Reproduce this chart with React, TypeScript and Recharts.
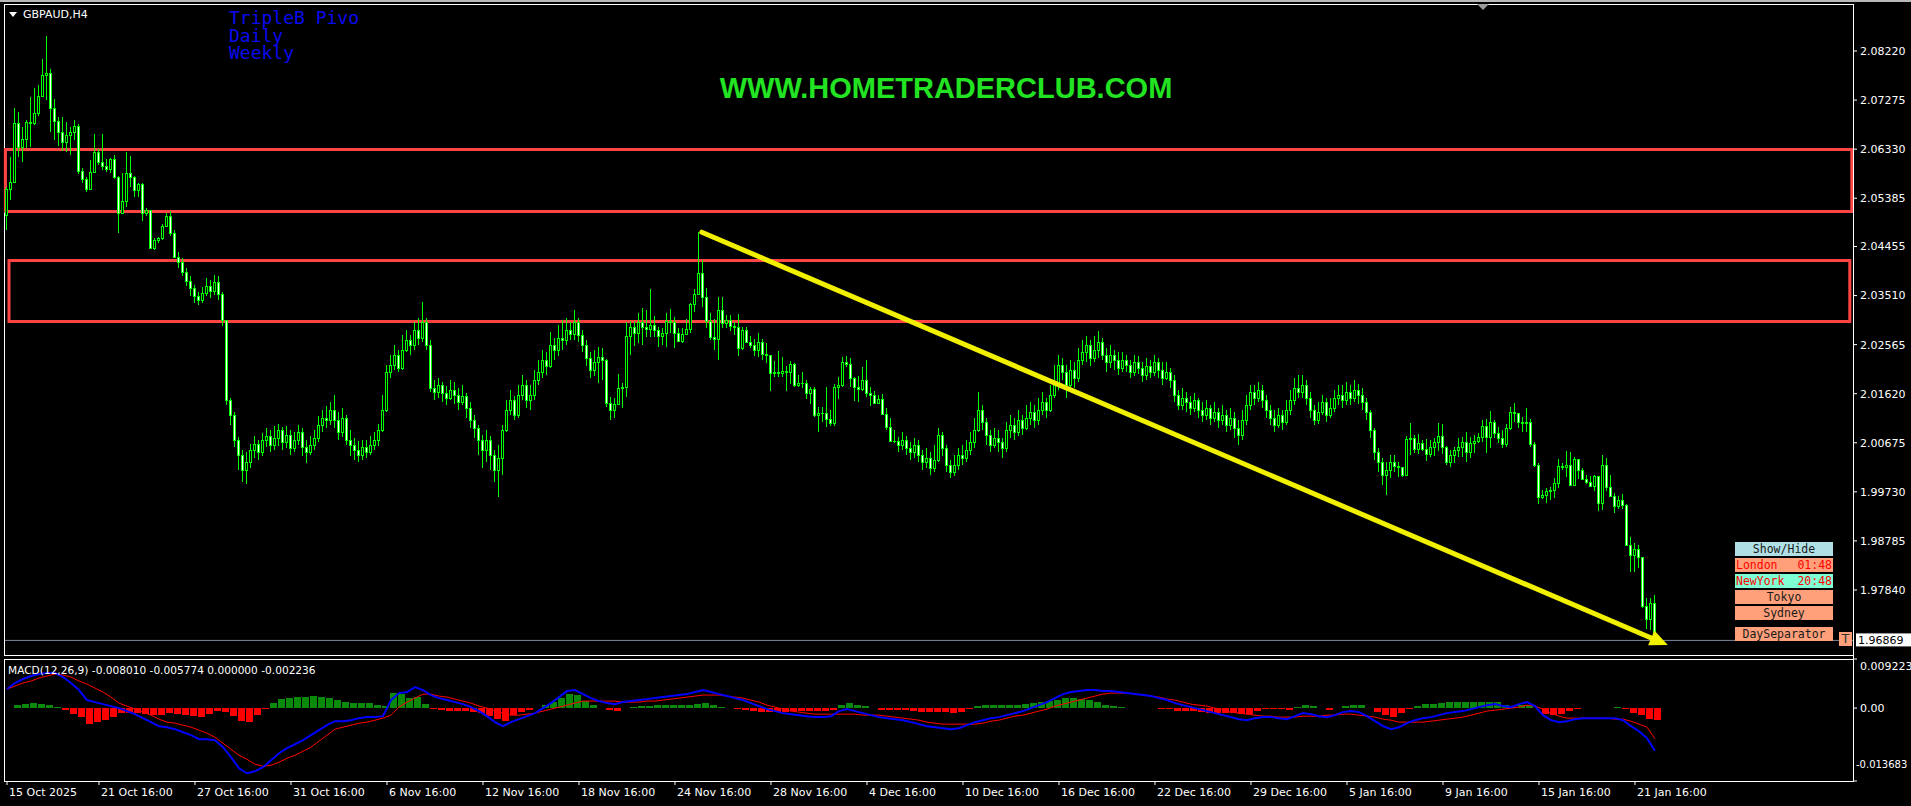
import React from "react";
import {
  ComposedChart,
  Bar,
  Line,
  XAxis,
  YAxis,
  ReferenceArea,
  ReferenceLine,
} from "recharts";

const W = 1911;
const H = 806;

// GBPAUD H4 candles (index 0 = first visible bar)
const firstOpen = 2.0506;
const closes = [
  2.0556,2.0569,2.0683,2.0637,2.0652,2.0685,2.0683,2.0702,2.0735,2.0776,2.0779,2.0712,2.0687,2.0666,2.0647,
  2.0660,2.0666,2.0677,2.0591,2.0575,2.0556,2.0589,2.0627,2.0608,2.0600,2.0595,2.0614,2.0579,2.0510,2.0533,
  2.0587,2.0579,2.0554,2.0566,2.0510,2.0516,2.0442,2.0458,2.0462,2.0485,2.0504,2.0471,2.0425,2.0415,2.0396,
  2.0379,2.0365,2.0350,2.0342,2.0356,2.0369,2.0360,2.0377,2.0354,2.0304,2.0150,2.0121,2.0073,2.0044,2.0015,
  2.0030,2.0053,2.0065,2.0049,2.0073,2.0080,2.0063,2.0076,2.0092,2.0069,2.0082,2.0057,2.0073,2.0088,2.0059,
  2.0049,2.0063,2.0076,2.0101,2.0115,2.0111,2.0130,2.0111,2.0088,2.0115,2.0073,2.0063,2.0053,2.0044,2.0059,
  2.0049,2.0063,2.0073,2.0092,2.0130,2.0204,2.0217,2.0236,2.0211,2.0246,2.0265,2.0256,2.0284,2.0269,2.0300,
  2.0256,2.0173,2.0165,2.0179,2.0163,2.0153,2.0169,2.0159,2.0146,2.0157,2.0134,2.0111,2.0096,2.0073,2.0053,
  2.0073,2.0044,2.0015,2.0038,2.0092,2.0130,2.0150,2.0121,2.0159,2.0179,2.0150,2.0159,2.0188,2.0204,2.0227,
  2.0215,2.0256,2.0246,2.0269,2.0265,2.0284,2.0277,2.0300,2.0275,2.0256,2.0231,2.0207,2.0223,2.0232,2.0227,
  2.0144,2.0130,2.0142,2.0173,2.0175,2.0273,2.0290,2.0279,2.0300,2.0290,2.0286,2.0294,2.0284,2.0273,2.0279,
  2.0302,2.0300,2.0279,2.0263,2.0277,2.0286,2.0335,2.0354,2.0394,2.0348,2.0302,2.0271,2.0267,2.0323,2.0298,
  2.0304,2.0292,2.0290,2.0250,2.0284,2.0261,2.0256,2.0246,2.0261,2.0238,2.0236,2.0202,2.0204,2.0202,2.0206,
  2.0204,2.0219,2.0179,2.0182,2.0182,2.0163,2.0171,2.0121,2.0125,2.0125,2.0113,2.0105,2.0175,2.0179,2.0223,
  2.0219,2.0192,2.0175,2.0171,2.0188,2.0163,2.0159,2.0144,2.0152,2.0123,2.0098,2.0071,2.0071,2.0063,2.0073,
  2.0057,2.0049,2.0063,2.0044,2.0030,2.0038,2.0019,2.0034,2.0082,2.0057,2.0024,2.0011,2.0024,2.0044,2.0038,
  2.0053,2.0069,2.0092,2.0130,2.0107,2.0082,2.0063,2.0076,2.0069,2.0057,2.0092,2.0101,2.0088,2.0111,2.0096,
  2.0115,2.0127,2.0111,2.0130,2.0146,2.0130,2.0159,2.0179,2.0217,2.0204,2.0179,2.0207,2.0192,2.0227,2.0242,
  2.0256,2.0231,2.0246,2.0261,2.0236,2.0223,2.0236,2.0227,2.0211,2.0227,2.0217,2.0204,2.0223,2.0211,2.0198,
  2.0215,2.0204,2.0223,2.0207,2.0192,2.0204,2.0188,2.0159,2.0140,2.0153,2.0146,2.0134,2.0150,2.0130,2.0121,
  2.0134,2.0115,2.0127,2.0111,2.0121,2.0101,2.0115,2.0096,2.0082,2.0111,2.0140,2.0165,2.0153,2.0169,2.0150,
  2.0130,2.0115,2.0101,2.0121,2.0107,2.0130,2.0150,2.0173,2.0165,2.0179,2.0153,2.0130,2.0111,2.0127,2.0146,
  2.0121,2.0134,2.0153,2.0159,2.0150,2.0165,2.0153,2.0169,2.0159,2.0146,2.0127,2.0092,2.0049,2.0030,2.0005,
  2.0015,2.0030,2.0022,2.0021,2.0005,2.0074,2.0076,2.0055,2.0067,2.0055,2.0046,2.0059,2.0069,2.0080,2.0059,
  2.0030,2.0044,2.0053,2.0059,2.0069,2.0049,2.0067,2.0071,2.0078,2.0100,2.0078,2.0107,2.0086,2.0076,2.0065,
  2.0096,2.0127,2.0125,2.0107,2.0105,2.0107,2.0065,2.0024,1.9963,1.9967,1.9974,1.9976,1.9990,2.0023,2.0021,
  2.0024,1.9986,2.0036,2.0015,1.9997,1.9992,1.9984,2.0003,1.9951,2.0024,1.9982,1.9965,1.9945,1.9957,1.9947,
  1.9870,1.9851,1.9863,1.9847,1.9753,1.9728,1.9759,1.96869,
];
const highs = [
  2.0560,2.0618,2.0712,2.0704,2.0675,2.0689,2.0733,2.0751,2.0756,2.0806,2.0851,2.0787,2.0729,2.0695,2.0695,
  2.0685,2.0675,2.0689,2.0681,2.0596,2.0579,2.0612,2.0662,2.0633,2.0662,2.0614,2.0616,2.0621,2.0581,2.0587,
  2.0627,2.0620,2.0581,2.0568,2.0568,2.0519,2.0512,2.0462,2.0464,2.0489,2.0510,2.0514,2.0477,2.0435,2.0423,
  2.0404,2.0388,2.0371,2.0358,2.0367,2.0385,2.0381,2.0390,2.0388,2.0358,2.0304,2.0153,2.0127,2.0078,2.0053,
  2.0049,2.0065,2.0080,2.0073,2.0086,2.0096,2.0092,2.0100,2.0103,2.0098,2.0100,2.0092,2.0088,2.0101,2.0096,
  2.0073,2.0080,2.0092,2.0119,2.0130,2.0138,2.0146,2.0159,2.0127,2.0134,2.0121,2.0092,2.0076,2.0071,2.0073,
  2.0073,2.0080,2.0088,2.0103,2.0159,2.0217,2.0236,2.0256,2.0246,2.0275,2.0284,2.0275,2.0300,2.0308,2.0338,
  2.0308,2.0265,2.0188,2.0192,2.0184,2.0177,2.0188,2.0184,2.0173,2.0179,2.0163,2.0146,2.0121,2.0101,2.0082,
  2.0092,2.0080,2.0053,2.0063,2.0101,2.0150,2.0169,2.0157,2.0179,2.0198,2.0188,2.0179,2.0207,2.0227,2.0246,
  2.0242,2.0281,2.0269,2.0294,2.0304,2.0308,2.0300,2.0323,2.0308,2.0284,2.0265,2.0242,2.0246,2.0252,2.0250,
  2.0229,2.0155,2.0153,2.0200,2.0182,2.0300,2.0302,2.0302,2.0317,2.0327,2.0323,2.0363,2.0311,2.0290,2.0288,
  2.0317,2.0325,2.0309,2.0288,2.0288,2.0306,2.0336,2.0363,2.0473,2.0419,2.0365,2.0317,2.0306,2.0348,2.0348,
  2.0313,2.0313,2.0300,2.0315,2.0290,2.0290,2.0273,2.0267,2.0279,2.0267,2.0259,2.0236,2.0225,2.0244,2.0232,
  2.0215,2.0225,2.0221,2.0198,2.0204,2.0188,2.0175,2.0175,2.0136,2.0136,2.0175,2.0130,2.0180,2.0194,2.0232,
  2.0234,2.0231,2.0194,2.0196,2.0213,2.0227,2.0175,2.0167,2.0159,2.0161,2.0134,2.0115,2.0092,2.0078,2.0088,
  2.0080,2.0069,2.0076,2.0073,2.0053,2.0057,2.0049,2.0063,2.0096,2.0088,2.0063,2.0034,2.0044,2.0057,2.0063,
  2.0073,2.0088,2.0115,2.0165,2.0140,2.0115,2.0092,2.0096,2.0092,2.0076,2.0107,2.0121,2.0115,2.0130,2.0121,
  2.0140,2.0146,2.0140,2.0153,2.0165,2.0153,2.0179,2.0217,2.0236,2.0231,2.0217,2.0227,2.0223,2.0250,2.0265,
  2.0273,2.0265,2.0273,2.0283,2.0269,2.0250,2.0256,2.0246,2.0242,2.0242,2.0236,2.0227,2.0236,2.0234,2.0223,
  2.0231,2.0227,2.0236,2.0231,2.0223,2.0223,2.0211,2.0198,2.0169,2.0173,2.0165,2.0157,2.0163,2.0153,2.0146,
  2.0150,2.0140,2.0146,2.0134,2.0140,2.0130,2.0134,2.0127,2.0111,2.0130,2.0159,2.0179,2.0179,2.0184,2.0179,
  2.0159,2.0140,2.0130,2.0134,2.0130,2.0150,2.0169,2.0192,2.0198,2.0198,2.0188,2.0165,2.0140,2.0146,2.0159,
  2.0153,2.0153,2.0169,2.0179,2.0179,2.0184,2.0179,2.0188,2.0180,2.0173,2.0153,2.0130,2.0096,2.0057,2.0038,
  2.0030,2.0044,2.0044,2.0030,2.0019,2.0080,2.0105,2.0082,2.0084,2.0073,2.0075,2.0073,2.0076,2.0105,2.0103,
  2.0061,2.0053,2.0059,2.0076,2.0078,2.0088,2.0078,2.0082,2.0086,2.0111,2.0113,2.0128,2.0111,2.0098,2.0092,
  2.0103,2.0136,2.0144,2.0125,2.0117,2.0134,2.0113,2.0069,2.0028,1.9976,1.9980,1.9982,1.9999,2.0036,2.0028,
  2.0051,2.0049,2.0040,2.0021,2.0019,2.0005,2.0003,2.0005,2.0003,2.0044,2.0038,2.0005,1.9971,1.9965,1.9969,
  1.9949,1.9886,1.9874,1.9870,1.9847,1.9768,1.9768,1.9774,
];
const lows = [
  2.0477,2.0535,2.0569,2.0618,2.0608,2.0635,2.0637,2.0679,2.0697,2.0733,2.0727,2.0666,2.0650,2.0639,2.0629,
  2.0627,2.0621,2.0650,2.0585,2.0568,2.0550,2.0554,2.0587,2.0602,2.0593,2.0589,2.0587,2.0575,2.0471,2.0521,
  2.0521,2.0560,2.0541,2.0541,2.0494,2.0504,2.0440,2.0439,2.0452,2.0458,2.0483,2.0465,2.0423,2.0404,2.0388,
  2.0369,2.0350,2.0336,2.0333,2.0336,2.0350,2.0346,2.0352,2.0342,2.0292,2.0140,2.0101,2.0059,2.0015,1.9992,
  1.9988,2.0019,2.0038,2.0034,2.0042,2.0059,2.0049,2.0053,2.0061,2.0053,2.0057,2.0044,2.0049,2.0063,2.0042,
  2.0028,2.0044,2.0053,2.0069,2.0088,2.0096,2.0101,2.0096,2.0073,2.0078,2.0063,2.0042,2.0034,2.0030,2.0034,
  2.0038,2.0044,2.0053,2.0061,2.0088,2.0127,2.0192,2.0207,2.0204,2.0207,2.0242,2.0236,2.0246,2.0256,2.0261,
  2.0246,2.0165,2.0150,2.0153,2.0146,2.0140,2.0150,2.0142,2.0130,2.0140,2.0115,2.0096,2.0076,2.0044,2.0019,
  2.0030,2.0015,1.9992,1.9963,2.0005,2.0088,2.0121,2.0111,2.0115,2.0150,2.0134,2.0130,2.0150,2.0179,2.0192,
  2.0198,2.0211,2.0227,2.0234,2.0246,2.0256,2.0265,2.0265,2.0261,2.0242,2.0215,2.0192,2.0196,2.0182,2.0188,
  2.0136,2.0111,2.0115,2.0142,2.0134,2.0155,2.0236,2.0254,2.0259,2.0256,2.0271,2.0271,2.0271,2.0252,2.0256,
  2.0252,2.0279,2.0250,2.0261,2.0259,2.0277,2.0279,2.0319,2.0352,2.0329,2.0288,2.0265,2.0246,2.0227,2.0288,
  2.0288,2.0283,2.0275,2.0234,2.0246,2.0259,2.0250,2.0234,2.0232,2.0227,2.0221,2.0167,2.0194,2.0194,2.0194,
  2.0167,2.0180,2.0175,2.0175,2.0173,2.0152,2.0142,2.0117,2.0088,2.0107,2.0098,2.0100,2.0100,2.0152,2.0175,
  2.0213,2.0175,2.0148,2.0146,2.0167,2.0155,2.0138,2.0142,2.0146,2.0121,2.0092,2.0069,2.0067,2.0049,2.0053,
  2.0044,2.0034,2.0038,2.0030,2.0015,2.0019,2.0005,2.0011,2.0030,2.0042,2.0011,1.9999,2.0003,2.0015,2.0024,
  2.0030,2.0044,2.0057,2.0088,2.0092,2.0063,2.0049,2.0057,2.0049,2.0038,2.0049,2.0076,2.0073,2.0080,2.0082,
  2.0092,2.0101,2.0096,2.0101,2.0121,2.0115,2.0127,2.0153,2.0169,2.0188,2.0153,2.0165,2.0173,2.0184,2.0217,
  2.0223,2.0215,2.0223,2.0231,2.0227,2.0204,2.0211,2.0207,2.0198,2.0204,2.0204,2.0192,2.0196,2.0200,2.0184,
  2.0188,2.0192,2.0196,2.0192,2.0179,2.0188,2.0173,2.0146,2.0130,2.0130,2.0127,2.0121,2.0127,2.0115,2.0107,
  2.0111,2.0101,2.0107,2.0096,2.0101,2.0088,2.0092,2.0076,2.0063,2.0073,2.0101,2.0130,2.0140,2.0146,2.0134,
  2.0115,2.0101,2.0088,2.0096,2.0092,2.0101,2.0121,2.0140,2.0153,2.0153,2.0140,2.0115,2.0101,2.0103,2.0121,
  2.0107,2.0115,2.0127,2.0140,2.0134,2.0140,2.0140,2.0146,2.0142,2.0130,2.0111,2.0076,2.0034,2.0011,1.9986,
  1.9967,1.9999,2.0011,2.0001,2.0001,2.0003,2.0044,2.0048,2.0046,2.0051,2.0032,2.0040,2.0042,2.0051,2.0046,
  2.0024,2.0021,2.0028,2.0040,2.0040,2.0030,2.0038,2.0048,2.0067,2.0069,2.0048,2.0057,2.0076,2.0067,2.0057,
  2.0059,2.0092,2.0107,2.0096,2.0088,2.0088,2.0059,2.0021,1.9949,1.9959,1.9951,1.9957,1.9961,1.9980,2.0015,
  2.0001,1.9984,1.9999,1.9997,1.9996,1.9988,1.9982,1.9974,1.9936,1.9938,1.9974,1.9963,1.9932,1.9940,1.9940,
  1.9868,1.9818,1.9818,1.9826,1.9749,1.9709,1.9707,1.9686,
];
const lastPrice = 1.96869;

const priceTicks = [2.0822, 2.07275, 2.0633, 2.05385, 2.04455, 2.0351, 2.02565, 2.0162, 2.00675, 1.9973, 1.98785, 1.9784];
const timeTickIdx = [0, 23, 47, 71, 95, 119, 143, 167, 191, 215, 239, 263, 287, 311, 335, 359, 383, 407];
const timeLabels = [
  "15 Oct 2025", "21 Oct 16:00", "27 Oct 16:00", "31 Oct 16:00", "6 Nov 16:00", "12 Nov 16:00",
  "18 Nov 16:00", "24 Nov 16:00", "28 Nov 16:00", "4 Dec 16:00", "10 Dec 16:00", "16 Dec 16:00",
  "22 Dec 16:00", "29 Dec 16:00", "5 Jan 16:00", "9 Jan 16:00", "15 Jan 16:00", "21 Jan 16:00",
];

// MACD(12,26,9), one reading every 2 bars
const macdStep = 2;
const macdLine = [
  0.00358,0.00471,0.00546,0.00602,0.00640,0.00659,0.00659,0.00583,0.00471,0.00339,
  0.00151,0.00113,0.00075,0.00038,0,-0.00056,-0.00113,-0.00188,-0.00263,-0.00339,
  -0.00358,-0.00395,-0.00452,-0.00508,-0.00583,-0.00583,-0.00602,-0.00734,-0.00922,-0.01129,
  -0.01223,-0.01186,-0.01110,-0.00979,-0.00847,-0.00753,-0.00678,-0.00602,-0.00508,-0.00414,
  -0.00320,-0.00245,-0.00245,-0.00226,-0.00188,-0.00169,-0.00169,-0.00151,0.00151,0.00282,
  0.00301,0.00395,0.00339,0.00245,0.00188,0.00151,0.00113,0.00075,0.00019,-0.00056,
  -0.00151,-0.00263,-0.00339,-0.00263,-0.00207,-0.00151,-0.00094,0,0.00094,0.00207,
  0.00320,0.00339,0.00263,0.00188,0.00132,0.00094,0.00075,0.00113,0.00132,0.00151,
  0.00169,0.00188,0.00207,0.00226,0.00245,0.00263,0.00301,0.00339,0.00301,0.00263,
  0.00226,0.00188,0.00151,0.00094,0.00038,-0.00019,-0.00056,-0.00094,-0.00113,-0.00132,
  -0.00151,-0.00169,-0.00169,-0.00151,-0.00056,-0.00019,-0.00056,-0.00094,-0.00132,-0.00169,
  -0.00188,-0.00207,-0.00226,-0.00263,-0.00301,-0.00339,-0.00358,-0.00376,-0.00395,-0.00376,
  -0.00320,-0.00263,-0.00226,-0.00188,-0.00169,-0.00132,-0.00094,-0.00056,0,0.00056,
  0.00113,0.00188,0.00263,0.00301,0.00320,0.00339,0.00339,0.00320,0.00320,0.00301,
  0.00282,0.00263,0.00245,0.00226,0.00188,0.00151,0.00094,0.00056,0.00019,-0.00019,
  -0.00056,-0.00094,-0.00132,-0.00169,-0.00207,-0.00226,-0.00188,-0.00169,-0.00169,-0.00188,
  -0.00207,-0.00151,-0.00094,-0.00113,-0.00151,-0.00169,-0.00132,-0.00075,-0.00056,-0.00075,
  -0.00151,-0.00245,-0.00339,-0.00395,-0.00358,-0.00282,-0.00226,-0.00188,-0.00169,-0.00132,
  -0.00094,-0.00075,-0.00056,-0.00019,0.00019,0.00056,0.00075,0.00038,0.00019,0.00075,
  0.00113,0.00038,-0.00132,-0.00226,-0.00263,-0.00245,-0.00207,-0.00188,-0.00188,-0.00188,
  -0.00188,-0.00188,-0.00226,-0.00339,-0.00433,-0.00565,-0.00801,
];
const signalLine = [
  0.00358,0.00414,0.00471,0.00508,0.00565,0.00602,0.00640,0.00621,0.00583,0.00508,
  0.00452,0.00376,0.00301,0.00207,0.00094,0.00038,-0.00019,-0.00075,-0.00132,-0.00207,
  -0.00263,-0.00282,-0.00320,-0.00358,-0.00414,-0.00471,-0.00546,-0.00659,-0.00772,-0.00885,
  -0.00960,-0.01054,-0.01092,-0.01073,-0.01016,-0.00941,-0.00885,-0.00809,-0.00734,-0.00621,
  -0.00508,-0.00395,-0.00358,-0.00320,-0.00282,-0.00263,-0.00226,-0.00188,-0.00132,0.00019,
  0.00113,0.00188,0.00263,0.00263,0.00226,0.00207,0.00169,0.00132,0.00094,0.00038,
  0,-0.00056,-0.00094,-0.00132,-0.00132,-0.00113,-0.00094,-0.00056,-0.00019,0.00019,
  0.00056,0.00094,0.00132,0.00132,0.00132,0.00132,0.00132,0.00113,0.00113,0.00113,
  0.00132,0.00132,0.00151,0.00169,0.00188,0.00207,0.00226,0.00245,0.00245,0.00245,
  0.00226,0.00207,0.00188,0.00151,0.00113,0.00056,0.00019,-0.00019,-0.00056,-0.00075,
  -0.00094,-0.00113,-0.00113,-0.00113,-0.00113,-0.00113,-0.00113,-0.00132,-0.00132,-0.00132,
  -0.00151,-0.00169,-0.00188,-0.00207,-0.00226,-0.00263,-0.00282,-0.00301,-0.00301,-0.00301,
  -0.00301,-0.00301,-0.00282,-0.00245,-0.00226,-0.00188,-0.00151,-0.00132,-0.00094,-0.00056,
  -0.00019,0.00038,0.00075,0.00113,0.00151,0.00188,0.00226,0.00263,0.00282,0.00282,
  0.00282,0.00263,0.00245,0.00226,0.00207,0.00169,0.00151,0.00113,0.00075,0.00056,
  0.00038,0,-0.00038,-0.00075,-0.00094,-0.00113,-0.00132,-0.00151,-0.00151,-0.00169,
  -0.00169,-0.00169,-0.00151,-0.00151,-0.00151,-0.00132,-0.00132,-0.00113,-0.00113,-0.00132,
  -0.00151,-0.00169,-0.00207,-0.00226,-0.00263,-0.00263,-0.00263,-0.00263,-0.00245,-0.00226,
  -0.00207,-0.00188,-0.00169,-0.00132,-0.00094,-0.00056,-0.00038,-0.00019,0,0.00019,
  0.00056,0.00038,-0.00019,-0.00094,-0.00151,-0.00188,-0.00188,-0.00188,-0.00188,-0.00188,
  -0.00188,-0.00207,-0.00207,-0.00245,-0.00301,-0.00358,-0.005774,
];
const macdTicks = [0.009223, 0, -0.013683];
const macdCaption = "MACD(12,26,9) -0.008010 -0.005774 0.000000 -0.002236";

// drawn objects on the chart (bar index / price)
const zones = [
  { x1: -0.4, x2: 461.2, top: 2.06323, bottom: 2.05129 },
  { x1: 0.5, x2: 460.7, top: 2.04186, bottom: 2.03011 },
];
const trend = { x1: 173.7, y1: 2.0473, x2: 415.2, y2: 1.9678 };

const candles = closes.map((c, i) => {
  const o = i === 0 ? firstOpen : closes[i - 1];
  return { i, o, c, h: Math.max(highs[i], o, c), l: Math.min(lows[i], o, c) };
});

const macdRows = macdLine.map((m, k) => ({
  i: k * macdStep,
  macd: m,
  signal: signalLine[k],
  hist: m - signalLine[k],
}));

const LIME = "#00ff00";
const axisFont = "DejaVu Sans, Verdana, sans-serif";

const Candle = (props: any) => {
  const { x, y, width, height, payload } = props;
  const { o, c, h, l } = payload;
  const cx = Math.floor(x + width / 2);
  const k = h === l ? 0 : height / (h - l);
  const py = (v: number) => y + (h - v) * k;
  const top = Math.round(py(Math.max(o, c)));
  const bot = Math.round(py(Math.min(o, c)));
  const bh = Math.max(1, bot - top + 1);
  return (
    <g shapeRendering="crispEdges">
      <line x1={cx + 0.5} x2={cx + 0.5} y1={Math.round(y)} y2={Math.round(y + height)} stroke={LIME} strokeWidth={1} />
      <rect x={cx - 1} y={top} width={3} height={bh} fill={LIME} />
      {bh > 2 && <rect x={cx} y={top + 1} width={1} height={bh - 2} fill={c >= o ? "#000" : "#fff"} />}
    </g>
  );
};

const HistBar = (props: any) => {
  const { x, y, width, height, payload } = props;
  if (!height) return <g />;
  const top = Math.min(y, y + height);
  const h = Math.max(1, Math.round(Math.abs(height)));
  const c = Math.round(x + width / 2);
  return (
    <rect x={c - 1} y={Math.round(top)} width={7} height={h} fill={payload.hist >= 0 ? "#0a8a0a" : "#ff0000"} shapeRendering="crispEdges" />
  );
};

const ArrowLine = (props: any) => {
  const { x1, y1, x2, y2 } = props;
  const dx = x2 - x1;
  const dy = y2 - y1;
  const len = Math.hypot(dx, dy) || 1;
  const ux = dx / len;
  const uy = dy / len;
  const bx = x2 - ux * 18;
  const by = y2 - uy * 18;
  const pts = `${x2},${y2} ${bx - uy * 8},${by + ux * 8} ${bx + uy * 8},${by - ux * 8}`;
  return (
    <g>
      <line x1={x1} y1={y1} x2={bx} y2={by} stroke="#f0f000" strokeWidth={5} strokeLinecap="round" />
      <polygon points={pts} fill="#f0f000" />
    </g>
  );
};

const PriceTag = (props: any) => {
  const vb = props.viewBox || { x: 0, y: 0, width: 0 };
  const x = vb.x + vb.width + 3;
  const y = vb.y;
  return (
    <g>
      <rect x={x} y={y - 7} width={58} height={13} fill="#fff" />
      <text x={x + 2} y={y} dy="0.36em" fontSize={11} fontFamily={axisFont} fill="#000">
        {lastPrice.toFixed(5)}
      </text>
    </g>
  );
};

const TimeTick = (props: any) => {
  const { x, y, payload } = props;
  const k = timeTickIdx.indexOf(payload.value);
  return (
    <text x={x + 2} y={y} dy="0.8em" fontSize={11} fontFamily={axisFont} fill="#fff" textAnchor="start">
      {timeLabels[k]}
    </text>
  );
};

const MacdTick = (props: any) => {
  const { x, y, payload } = props;
  const v = payload.value;
  const isBottom = v === macdTicks[2];
  const shift = v === macdTicks[0] ? 7 : isBottom ? -17 : 0;
  return (
    <text
      x={isBottom ? x - 4 : x}
      y={y + shift}
      dy="0.36em"
      fontSize={isBottom ? 10 : 11}
      fontFamily={axisFont}
      fill="#fff"
      textAnchor="start"
    >
      {v === 0 ? "0.00" : v.toFixed(6)}
    </text>
  );
};

const buttons = [
  { top: 542, bg: "#b0e0e6", color: "#1a1a1a", left: "Show/Hide", right: "" },
  { top: 558, bg: "#ffa07a", color: "#ff0000", left: "London", right: "01:48" },
  { top: 574, bg: "#7fffd4", color: "#ff0000", left: "NewYork", right: "20:48" },
  { top: 590, bg: "#ffa07a", color: "#1a1a1a", left: "Tokyo", right: "" },
  { top: 606, bg: "#ffa07a", color: "#1a1a1a", left: "Sydney", right: "" },
  { top: 627, bg: "#ffa07a", color: "#1a1a1a", left: "DaySeparator", right: "" },
];

const abs = (s: React.CSSProperties): React.CSSProperties => ({ position: "absolute", ...s });

export default function App() {
  return (
    <div style={{ position: "fixed", left: 0, top: 0, width: W, height: H, background: "#000", overflow: "hidden" }}>
      <div style={abs({ left: 0, top: 0, width: W, height: 2, background: "#b8b8b8" })} />
      <div style={abs({ left: 4, top: 4, width: 1848, height: 650, border: "1px solid #fff" })} />
      <div style={abs({ left: 4, top: 659, width: 1848, height: 121, border: "1px solid #fff" })} />

      <div style={abs({ left: 0, top: 0 })}>
        <ComposedChart width={W} height={660} data={candles} margin={{ top: 4, right: 0, bottom: 5, left: 5 }}>
          <XAxis type="number" dataKey="i" domain={[-0.5, 461.5]} allowDataOverflow hide />
          <YAxis
            orientation="right"
            width={58}
            type="number"
            domain={[1.96588, 2.09125]}
            allowDataOverflow
            ticks={priceTicks}
            interval={0}
            tickFormatter={(v: number) => v.toFixed(5)}
            tick={{ fill: "#fff", fontSize: 11, fontFamily: axisFont }}
            tickLine={{ stroke: "#fff" }}
            tickSize={4}
            tickMargin={3}
            axisLine={false}
          />
          <ReferenceLine y={lastPrice} stroke="#778899" strokeWidth={1} label={<PriceTag />} />
          <Bar dataKey={(d: any) => [d.l, d.h]} barSize={3} shape={<Candle />} isAnimationActive={false} />
          {zones.map((z, k) => (
            <ReferenceArea
              key={k}
              x1={z.x1}
              x2={z.x2}
              y1={z.bottom}
              y2={z.top}
              fill="none"
              stroke="#ff4444"
              strokeWidth={3}
              ifOverflow="visible"
            />
          ))}
          <ReferenceLine
            segment={[
              { x: trend.x1, y: trend.y1 },
              { x: trend.x2, y: trend.y2 },
            ]}
            shape={ArrowLine}
            ifOverflow="visible"
          />
        </ComposedChart>
      </div>

      <div style={abs({ left: 0, top: 655 })}>
        <ComposedChart width={W} height={151} data={macdRows} margin={{ top: 4, right: 0, bottom: 0, left: 5 }}>
          <XAxis
            type="number"
            dataKey="i"
            domain={[-0.5, 461.5]}
            allowDataOverflow
            ticks={timeTickIdx}
            interval={0}
            height={25}
            tick={<TimeTick />}
            tickLine={{ stroke: "#fff" }}
            tickSize={4}
            tickMargin={2}
            axisLine={false}
          />
          <YAxis
            orientation="right"
            width={58}
            type="number"
            domain={[-0.013683, 0.009223]}
            allowDataOverflow
            ticks={macdTicks}
            interval={0}
            tick={<MacdTick />}
            tickLine={{ stroke: "#fff" }}
            tickSize={4}
            tickMargin={3}
            axisLine={false}
          />
          <Bar dataKey="hist" barSize={6} shape={<HistBar />} isAnimationActive={false} />
          <Line type="linear" dataKey="signal" stroke="#ff0000" strokeWidth={1} dot={false} isAnimationActive={false} />
          <Line type="linear" dataKey="macd" stroke="#0000ff" strokeWidth={2} dot={false} isAnimationActive={false} />
        </ComposedChart>
      </div>

      <div style={abs({ left: 1853, top: 4, width: 1, height: 778, background: "#fff" })} />

      {/* chart title */}
      <div style={abs({ left: 9, top: 12, width: 0, height: 0, borderLeft: "4px solid transparent", borderRight: "4px solid transparent", borderTop: "5px solid #fff" })} />
      <div style={abs({ left: 23, top: 7, color: "#fff", fontFamily: axisFont, fontSize: 11, lineHeight: "16px" })}>GBPAUD,H4</div>
      <div style={abs({ left: 1477, top: 4, width: 0, height: 0, borderLeft: "6px solid transparent", borderRight: "6px solid transparent", borderTop: "6px solid #9a9a9a" })} />

      <div style={abs({ left: 229, top: 9, color: "#0a0af0", fontFamily: "DejaVu Sans Mono, monospace", fontSize: 18, lineHeight: "17.5px", whiteSpace: "pre" })}>
        {"TripleB Pivo\nDaily\nWeekly"}
      </div>

      <div style={abs({ left: 946, top: 88, transform: "translate(-50%, -50%)", color: "#22e422", fontFamily: "Liberation Sans, Arial, sans-serif", fontWeight: 700, fontSize: 29, whiteSpace: "nowrap" })}>
        WWW.HOMETRADERCLUB.COM
      </div>

      {buttons.map((b) => (
        <div
          key={b.left}
          style={abs({
            left: 1735,
            top: b.top,
            width: 98,
            height: 14,
            background: b.bg,
            color: b.color,
            fontFamily: "DejaVu Sans Mono, monospace",
            fontSize: 11.5,
            lineHeight: "14px",
            display: "flex",
            justifyContent: b.right ? "space-between" : "center",
            padding: b.right ? "0 1px 0 1px" : 0,
            boxSizing: "border-box",
            whiteSpace: "pre",
          })}
        >
          <span>{b.left}</span>
          {b.right && <span>{b.right}</span>}
        </div>
      ))}
      <div style={abs({ left: 1839, top: 632, width: 13, height: 14, background: "#ffa07a", color: "#333", fontFamily: axisFont, fontSize: 13, lineHeight: "14px", textAlign: "center" })}>T</div>

      <div style={abs({ left: 8, top: 663, color: "#fff", fontFamily: axisFont, fontSize: 10.6, lineHeight: "14px", whiteSpace: "pre" })}>
        {macdCaption}
      </div>
    </div>
  );
}
